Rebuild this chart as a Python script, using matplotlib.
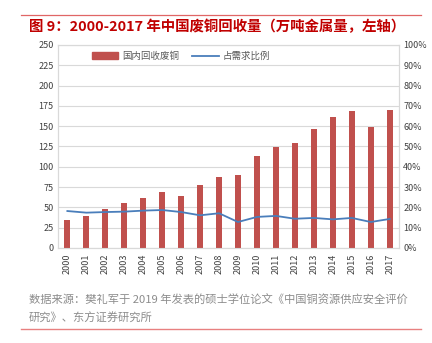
import numpy as np
import matplotlib.pyplot as plt
from matplotlib.lines import Line2D

plt.rcParams['font.family'] = ['Noto Sans CJK SC', 'DejaVu Sans']

years = [str(y) for y in range(2000, 2018)]
recycled = [35, 40, 48, 55, 62, 68.5, 64.5, 78, 88, 89.5, 113, 124.5, 129, 146.5, 161, 169, 148.5, 170]
share = [18.2, 17.4, 17.7, 17.9, 18.4, 18.7, 17.7, 16.1, 17.1, 12.8, 15.3, 15.8, 14.4, 14.8, 14.1, 14.8, 12.8, 14.3]

bar_color = '#C0504D'
line_color = '#4A7EBB'
grid_color = '#D9D9D9'
tick_color = '#404040'

fig = plt.figure(figsize=(4.32, 3.43), dpi=100)
ax = fig.add_axes([0.134, 0.277, 0.790, 0.592])
ax2 = ax.twinx()

x = np.arange(len(years))
ax.bar(x, recycled, width=0.32, color=bar_color, zorder=3, label='国内回收废铜')
ax2.plot(x, share, color=line_color, lw=1.3, zorder=4, label='占需求比例')

ax.set_xlim(-0.5, len(years) - 0.5)
ax.set_ylim(0, 250)
ax.set_yticks(range(0, 251, 25))
ax2.set_ylim(0, 100)
ax2.set_yticks(range(0, 101, 10))
ax2.set_yticklabels([f'{v}%' for v in range(0, 101, 10)])

ax.set_xticks(x)
ax.set_xticklabels(years, rotation=90)
ax.yaxis.grid(True, color=grid_color, lw=0.8, zorder=0)
ax.set_axisbelow(True)

for a in (ax, ax2):
    a.tick_params(length=0, labelsize=6.5, colors=tick_color, pad=3)
    for s in a.spines.values():
        s.set_color(grid_color)
        s.set_linewidth(0.8)
ax.tick_params(axis='x', pad=4)

handles = [plt.Rectangle((0, 0), 1, 1, color=bar_color),
           Line2D([0], [0], color=line_color, lw=1.3)]
leg = ax.legend(handles, ['国内回收废铜', '占需求比例'], loc='upper left',
                bbox_to_anchor=(0.075, 1.01), ncol=2, frameon=False, fontsize=6.8,
                handlelength=2.8, handleheight=0.7, handletextpad=0.4,
                columnspacing=1.4)
for t in leg.get_texts():
    t.set_color('#595959')

fig.add_artist(Line2D([0.048, 0.975], [1 - 15 / 343] * 2, color='#E06666', lw=0.9))
fig.text(0.067, 1 - 27 / 343, '图 9：2000-2017 年中国废铜回收量（万吨金属量，左轴）',
         color='#C00000', fontsize=10.4, fontweight='bold', va='center', ha='left')

fig.text(0.067, 1 - 300 / 343, '数据来源：樊礼军于 2019 年发表的硕士学位论文《中国铜资源供应安全评价',
         color='#8C8C8C', fontsize=8.1, va='center', ha='left')
fig.text(0.067, 1 - 318 / 343, '研究》、东方证券研究所',
         color='#8C8C8C', fontsize=8.1, va='center', ha='left')
fig.add_artist(Line2D([0.048, 0.975], [1 - 329 / 343] * 2, color='#E88080', lw=1.0))

fig.savefig('out.png', dpi=100)
